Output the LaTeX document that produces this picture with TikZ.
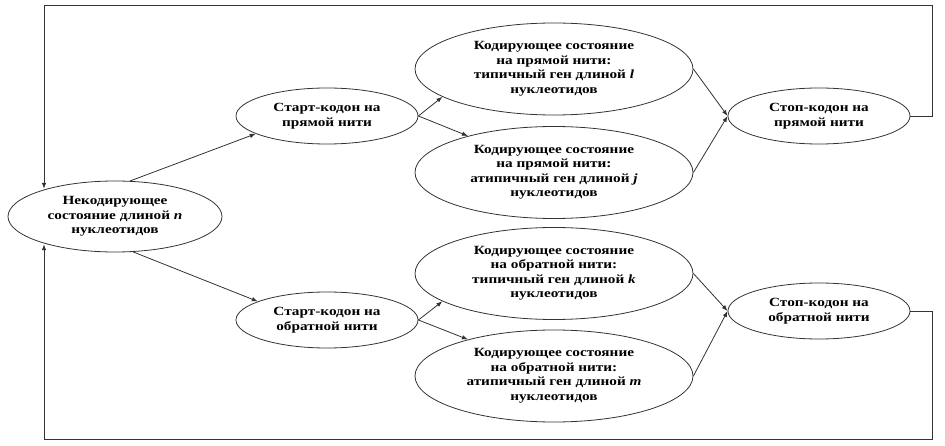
\documentclass[tikz,border=0pt]{standalone}
\usepackage{fontspec}
\setmainfont{Liberation Serif}[FakeStretch=1.22]
\usetikzlibrary{shapes.geometric,arrows.meta}
\begin{document}
\begin{tikzpicture}[x=1pt,y=-1pt,
  st/.style={ellipse,draw=black!80,line width=0.8pt,inner sep=0pt,align=center,
    font=\fontsize{12.5}{14.5}\selectfont\bfseries},
  small/.style={st,minimum width=182pt,minimum height=56pt},
  big/.style={st,minimum width=278pt,minimum height=92pt},
  arr/.style={draw=black!80,line width=0.8pt,-{Latex[length=6pt,width=4.5pt]}}]
\useasboundingbox (0,0) rectangle (945,446);
\node[st,minimum width=214pt,minimum height=71pt] (nonc) at (115,216.5)
  {Некодирующее\\состояние длиной \textit{n}\\нуклеотидов};
\node[small] (startF) at (327,116) {Старт-кодон на\\прямой нити};
\node[small] (startR) at (327,320) {Старт-кодон на\\обратной нити};
\node[big] (c1) at (554,69) {Кодирующее состояние\\на прямой нити:\\типичный ген длиной \textit{l}\\нуклеотидов};
\node[big] (c2) at (554,172.5) {Кодирующее состояние\\на прямой нити:\\атипичный ген длиной \textit{j}\\нуклеотидов};
\node[big] (c3) at (554,273.5) {Кодирующее состояние\\на обратной нити:\\типичный ген длиной \textit{k}\\нуклеотидов};
\node[big] (c4) at (554,376) {Кодирующее состояние\\на обратной нити:\\атипичный ген длиной \textit{m}\\нуклеотидов};
\node[small] (stopF) at (819,116) {Стоп-кодон на\\прямой нити};
\node[small] (stopR) at (819,311) {Стоп-кодон на\\обратной нити};
\coordinate (tl) at (44,5);
\coordinate (bl) at (44,439);
\draw[arr] (nonc.67) -- (startF.194);
\draw[arr] (nonc.-63) -- (startR.165);
\draw[arr] (startF.east) -- (c1.194);
\draw[arr] (startF.east) -- (c2.157);
\draw[arr] (startR.east) -- (c3.194);
\draw[arr] (startR.east) -- (c4.157);
\draw[arr] (c1.east) -- (stopF.west);
\draw[arr] (c2.east) -- (stopF.west);
\draw[arr] (c3.east) -- (stopR.west);
\draw[arr] (c4.east) -- (stopR.west);
\draw[arr] (stopF.east) -- ++(22,0) |- (tl) -- (tl |- nonc.158);
\draw[arr] (stopR.east) -- ++(22,0) |- (bl) -- (bl |- nonc.202);
\end{tikzpicture}
\end{document}
